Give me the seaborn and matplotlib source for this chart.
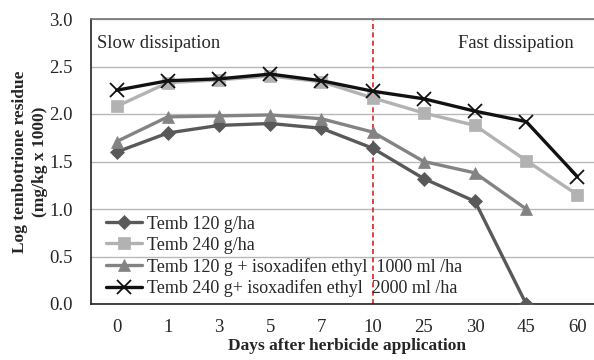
import numpy as np
import pandas as pd
import matplotlib
matplotlib.use("Agg")
import matplotlib.pyplot as plt
import seaborn as sns

days = ["0", "1", "3", "5", "7", "10", "25", "30", "45", "60"]
temb120 = [1.60, 1.80, 1.88, 1.90, 1.85, 1.64, 1.32, 1.08, 0.00, np.nan]
temb240 = [2.08, 2.33, 2.36, 2.40, 2.34, 2.17, 2.01, 1.88, 1.51, 1.15]
temb120_iso = [1.71, 1.97, 1.98, 1.99, 1.95, 1.81, 1.50, 1.38, 1.00, np.nan]
temb240_iso = [2.25, 2.35, 2.37, 2.42, 2.35, 2.24, 2.16, 2.03, 1.92, 1.34]
series_names = ["Temb 120 g/ha", "Temb 240 g/ha",
                "Temb 120 g + isoxadifen ethyl  1000 ml /ha",
                "Temb 240 g+ isoxadifen ethyl  2000 ml /ha"]

sns.set_theme(style="white")
plt.rcParams['font.family'] = ['Liberation Serif', 'DejaVu Serif']

fig = plt.figure(figsize=(5.94, 3.6), dpi=100)
W, H = 594, 360
left, right, top, bottom = 91, 603, 19, 304
ax = fig.add_axes([left / W, 1 - bottom / H, (right - left) / W, (bottom - top) / H])

xpos = list(range(len(days)))
colors = ["#595959", "#b2b2b2", "#838383", "#111111"]
markers = ["D", "s", "^", "x"]
msizes = [7, 8.5, 8.5, 9.5]
allvals = [temb120, temb240, temb120_iso, temb240_iso]
for name, vals, c, m, ms in zip(series_names, allvals, colors, markers, msizes):
    df = pd.DataFrame({"x": xpos, "y": vals}).dropna()
    sns.lineplot(data=df, x="x", y="y", ax=ax, color=c, marker=m, markersize=ms,
                 linewidth=2.4, markeredgecolor=c, markeredgewidth=1.3 if m == "x" else 0.5,
                 label=name, zorder=3)

ax.set_xlim(-0.5, len(days) - 0.5)
ax.set_ylim(0, 3.0)
ax.set_yticks(np.arange(0, 3.01, 0.5))
ax.set_yticklabels([f"{v:.1f}" for v in np.arange(0, 3.01, 0.5)], fontsize=13.5)
ax.set_xticks(xpos)
ax.set_xticklabels(days, fontsize=13.5)
ax.tick_params(axis='y', length=0, pad=13)
ax.tick_params(axis='x', length=0, pad=11)
ax.yaxis.grid(True, color="#b8b8b8", linewidth=1.0)
ax.set_axisbelow(True)
for s in ["left", "bottom"]:
    ax.spines[s].set_color("#222222")
    ax.spines[s].set_linewidth(1.2)
ax.spines["top"].set_color("#777777")
ax.spines["right"].set_visible(False)

ax.axvline(5, color="#e02020", linestyle=(0, (3, 2)), linewidth=1.2, zorder=2)

ax.text(0.012, 0.915, "Slow dissipation", transform=ax.transAxes, fontsize=13.3, va="center", ha="left")
ax.text(0.716, 0.915, "Fast dissipation", transform=ax.transAxes, fontsize=13.3, va="center", ha="left")

ax.set_xlabel("Days after herbicide application", fontsize=12.5, fontweight="bold", labelpad=1)
ax.set_ylabel("Log tembotrione residue\n(mg/kg x 1000)", fontsize=12.5, fontweight="bold", labelpad=1,
              linespacing=1.3)

leg = ax.legend(loc="upper left", bbox_to_anchor=(0.015, 0.335), frameon=False, fontsize=13,
                handlelength=2.0, handletextpad=0.3, labelspacing=0.22, borderaxespad=0)

fig.savefig("out.png", dpi=100)
